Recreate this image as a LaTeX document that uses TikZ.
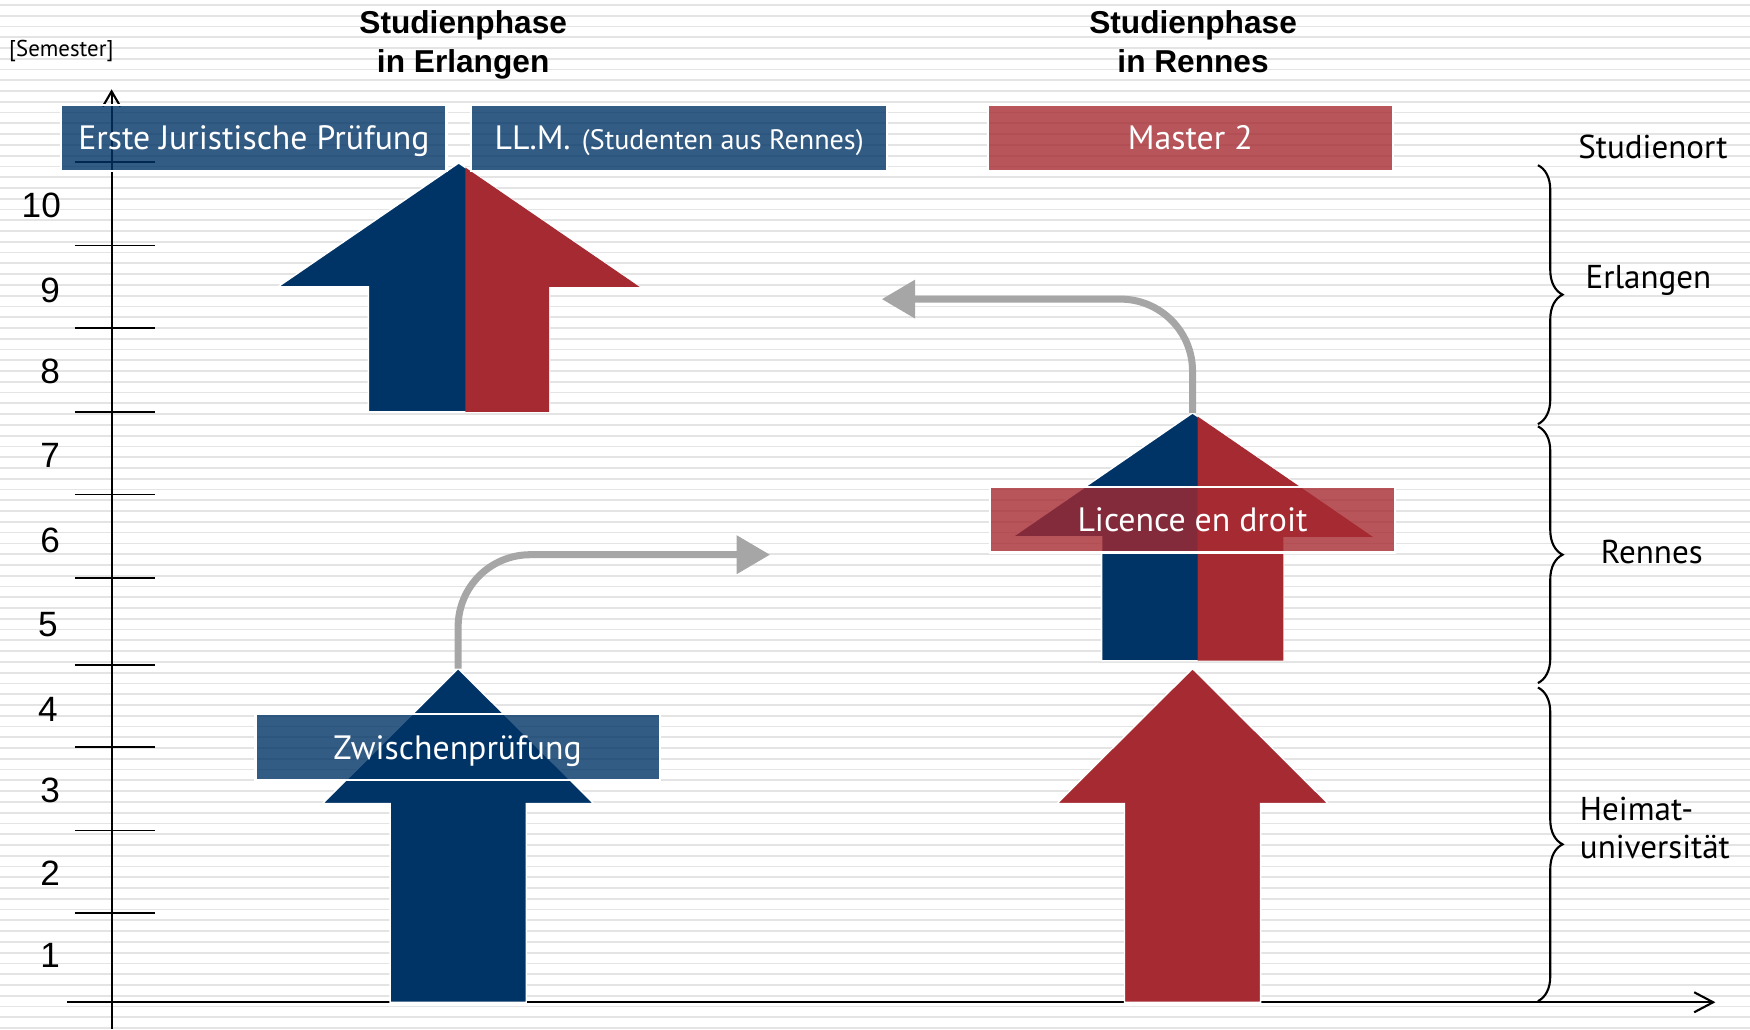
\documentclass[tikz,border=0pt]{standalone}
\usepackage{fontspec}
\setmainfont{Liberation Sans}
\newfontfamily\labelfont{PT Sans}
\usetikzlibrary{
    arrows.meta,
    decorations.pathreplacing,
    positioning
}
\definecolor{unblue}{RGB}{0,51,102}
\definecolor{unred}{RGB}{166,42,49}
\definecolor{linkgray}{RGB}{166,166,166}
\definecolor{stripegray}{RGB}{228,228,228}
% big block arrow: centre x, tip y, head half width, shaft half width, head base y, foot y
\newcommand{\bigup}[6]{(#1,#2) -- (#1+#3,#5) -- (#1+#4,#5) -- (#1+#4,#6) -- (#1-#4,#6) -- (#1-#4,#5) -- (#1-#3,#5) -- cycle}

\begin{document}
\begin{tikzpicture}[x=0.01116cm, y=-0.01116cm,
    phase/.style={minimum height=0.658cm, inner sep=0pt, text=white, draw=white, line width=0.6pt,
                  fill opacity=0.8, text opacity=1, text height=6.7pt, text depth=0pt,
                  font=\labelfont\fontsize{9.6}{11}\selectfont},
    title/.style={align=center, text depth=0pt, font=\bfseries\fontsize{9}{11}\selectfont},
    semnum/.style={font=\fontsize{10}{12}\selectfont},
    place/.style={font=\labelfont\fontsize{9.4}{10.8}\selectfont},
    link/.style={linkgray, line width=2pt, rounded corners=0.72cm, -{Triangle[length=9.5pt,width=10.5pt]}},
    placebrace/.style={decorate, decoration={brace, amplitude=7pt}, line width=0.6pt},
    axis/.style={line width=0.6pt}]
    \useasboundingbox (0,0) rectangle (1568,922);

    % background
    \foreach \k in {0,...,95}
        \draw[stripegray, line width=0.5pt] (0,4.35+9.65*\k) -- (1568,4.35+9.65*\k);

    % axes
    \coordinate (yfoot) at (100,922);
    \coordinate (ytop) at (100,80);
    \coordinate (xleft) at (60,898);
    \coordinate (xright) at (1537,898);
    \draw[axis, -{Straight Barb[length=4.3pt,width=5pt]}] (yfoot) -- (ytop);
    \draw[axis, -{Straight Barb[length=5.4pt,width=5.7pt]}] (xleft) -- (xright);
    \foreach \y in {145,220,294,369,443,518,596,669,744,818}
        \draw[line width=0.5pt] (67,\y) -- (139,\y);
    \foreach \n/\x/\y in {10/37/184, 9/45/260, 8/45/333, 7/45/408, 6/45/484,
                           5/43/560, 4/43/636, 3/45/708, 2/45/782, 1/45/856}
        \node[semnum] (sem\n) at (\x,\y) {\n};
    \node[font=\labelfont\fontsize{6.5}{8}\selectfont] (unit) at (55,46) {[Semester]};

    % block arrows
    \fill[unblue, draw=white, line width=0.4pt] \bigup{410.5}{599}{121.5}{61}{720}{898};
    \fill[unred, draw=white, line width=0.4pt] \bigup{1068.5}{599}{121.5}{61}{720}{898};
    \fill[unblue, draw=white, line width=0.4pt] \bigup{411}{146}{162}{81}{257}{369};
    \fill[unblue, draw=white, line width=0.4pt] \bigup{1068.5}{370}{161.5}{81.5}{481}{592};
    \begin{scope}
        \clip (417,0) rectangle (800,500);
        \fill[unred] \bigup{411}{146}{162}{81}{257}{369};
    \end{scope}
    \begin{scope}
        \clip (1073,300) rectangle (1300,600);
        \fill[unred] \bigup{1068.5}{370}{161.5}{81.5}{481}{592};
    \end{scope}

    % change of place
    \coordinate (hometip) at (410.5,599);
    \coordinate (toRennes) at (690,497);
    \coordinate (rennestip) at (1068.5,370);
    \coordinate (toErlangen) at (790,268);
    \draw[link] (hometip) |- (toRennes);
    \draw[link] (rennestip) |- (toErlangen);

    % degrees
    \node[phase, fill=unblue, minimum width=3.85cm] (ejp) at (227.5,123.5) {Erste Juristische Prüfung};
    \node[phase, fill=unblue, minimum width=4.163cm] (llm) at (608.5,123.5)
        {LL.M.\,\,{\fontsize{8}{9}\selectfont(Studenten aus Rennes)}};
    \node[phase, fill=unred, minimum width=4.051cm] (master) at (1066.5,123.5) {Master 2};
    \node[phase, fill=unred, minimum width=4.051cm] (licence) at (1068.5,465.5) {Licence en droit};
    \node[phase, fill=unblue, minimum width=4.04cm] (zwp) at (410,669.5) {Zwischenprüfung};

    % headings
    \node[title] (erlphase) at (415,37) {Studienphase\\in Erlangen};
    \node[title] (renphase) at (1069,37) {Studienphase\\in Rennes};

    % places
    \node[place] (ort) at (1481,132) {Studienort};
    \draw[placebrace] (1378,148) -- (1378,380);
    \draw[placebrace] (1378,382) -- (1378,612);
    \draw[placebrace] (1378,616) -- (1378,897);
    \node[place] (erl) at (1477,251) {Erlangen};
    \node[place] (ren) at (1480,495) {Rennes};
    \node[place, align=left, anchor=west, inner sep=0pt] (heimat) at (1415,742) {Heimat-\\universität};
\end{tikzpicture}
\end{document}
